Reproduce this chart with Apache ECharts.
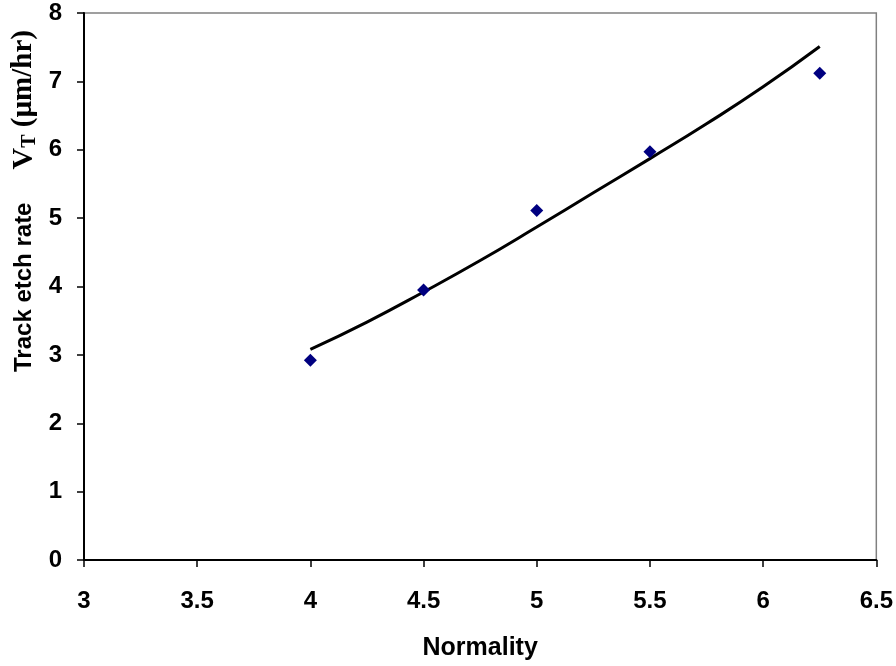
<!DOCTYPE html>
<html>
<head>
<meta charset="utf-8">
<script src="https://cdn.jsdelivr.net/npm/echarts@6/dist/echarts.min.js"></script>
<style>html,body{margin:0;padding:0;background:#fff}#c{width:896px;height:666px}</style>
</head>
<body>
<div id="c"></div>
<script>
var normality = [4, 4.5, 5, 5.5, 6.25];
var etchRate = [2.92, 3.95, 5.11, 5.97, 7.12];
var fitX = [4, 4.25, 4.5, 4.75, 5, 5.25, 5.5, 5.75, 6, 6.25];
var fitY = [3.08, 3.48, 3.92, 4.38, 4.87, 5.37, 5.87, 6.38, 6.92, 7.51];
var xTitle = 'Normality';
var yTitleA = 'Track etch rate';

var chart = echarts.init(document.getElementById('c'));
var pts = normality.map(function (x, i) { return [x, etchRate[i]]; });
var fit = fitX.map(function (x, i) { return [x, fitY[i]]; });
var lab = { color: '#000', fontFamily: 'Liberation Sans', fontWeight: 'bold', fontSize: 24 };
chart.setOption({
  animation: false,
  grid: { left: 84, right: 19, top: 13, bottom: 104, show: true, borderColor: '#808080', borderWidth: 1.5 },
  xAxis: {
    type: 'value', min: 3, max: 6.5, interval: 0.5,
    name: xTitle, nameLocation: 'middle', nameGap: 76,
    nameTextStyle: { color: '#000', fontFamily: 'Liberation Sans', fontWeight: 'bold', fontSize: 25 },
    axisLine: { onZero: false, lineStyle: { color: '#000', width: 2 } },
    axisTick: { show: true, length: 7, lineStyle: { color: '#000', width: 1.5 } },
    axisLabel: Object.assign({ margin: 29 }, lab),
    splitLine: { show: false }
  },
  yAxis: {
    type: 'value', min: 0, max: 8, interval: 1,
    axisLine: { show: true, onZero: false, lineStyle: { color: '#000', width: 2 } },
    axisTick: { show: true, length: 7, lineStyle: { color: '#000', width: 1.5 } },
    axisLabel: Object.assign({ margin: 22 }, lab),
    splitLine: { show: false }
  },
  graphic: [{
    type: 'text', x: 24, y: 201, rotation: Math.PI / 2,
    style: {
      text: '{a|' + yTitleA + '}{s| }{v|V}{t|T}{b| (µm/hr)}',
      align: 'center', verticalAlign: 'middle',
      rich: {
        a: { fontFamily: 'Liberation Sans', fontWeight: 'bold', fontSize: 24, fill: '#000', lineHeight: 32, verticalAlign: 'middle' },
        s: { fontSize: 24, width: 33, lineHeight: 32 },
        v: { fontFamily: 'Liberation Serif', fontWeight: 'bold', fontSize: 30, fill: '#000', lineHeight: 32, verticalAlign: 'middle' },
        t: { fontFamily: 'Liberation Serif', fontWeight: 'bold', fontSize: 20, fill: '#000', lineHeight: 32, verticalAlign: 'bottom' },
        b: { fontFamily: 'Liberation Serif', fontWeight: 'bold', fontSize: 29, fill: '#000', lineHeight: 32, verticalAlign: 'middle' }
      }
    }
  }],
  series: [
    { type: 'line', data: fit, showSymbol: false, smooth: true, lineStyle: { color: '#000', width: 3 }, z: 2 },
    { type: 'scatter', data: pts, symbol: 'diamond', symbolSize: 13, itemStyle: { color: '#000080', opacity: 1 }, z: 3 }
  ]
});
</script>
</body>
</html>
